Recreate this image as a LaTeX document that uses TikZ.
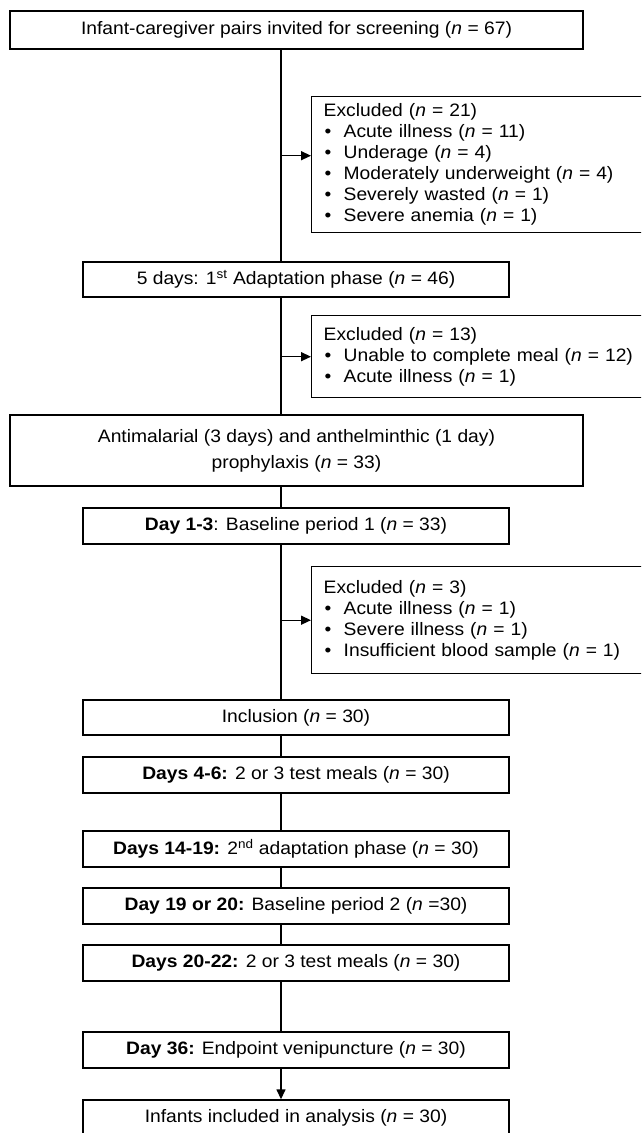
\documentclass[tikz,border=0pt]{standalone}
\usepackage{fontspec}
\setmainfont{Liberation Sans}[FakeStretch=1.07]
\usetikzlibrary{positioning,calc,arrows.meta}

\newcommand{\nn}{\textit{n}}
\newcommand{\bul}{\makebox[20pt][l]{\hspace{1pt}\textbullet}}

\begin{document}
\begin{tikzpicture}[x=1pt,y=-1pt,
    box/.style={draw,line width=1.4pt,minimum width=426pt,minimum height=36pt,inner sep=0pt,align=center,font=\fontsize{18}{26}\selectfont},
    widebox/.style={box,minimum width=573pt},
    exclbox/.style={draw,line width=1.4pt,anchor=north west,text width=330pt,inner xsep=12pt,inner ysep=0pt,align=left,font=\fontsize{18}{21}\selectfont},
    line/.style={line width=1.4pt},
    arr/.style={line,-{Triangle[length=10pt,width=9pt]}}]
    \useasboundingbox (0,0) rectangle (641,1133);
    \clip (0,0) rectangle (641,1133);
    \coordinate (spine) at (281,0);
    % Main flow
    \node[widebox,minimum height=38pt] (screen) at (296.5,30) {Infant-caregiver pairs invited for screening (\nn{} = 67)};
    \node[box,minimum height=35pt] (adapt1) at (296,279.5) {5 days: 1\textsuperscript{st} Adaptation phase (\nn{} = 46)};
    \node[widebox,minimum height=71pt] (prophy) at (296.5,450.5) {Antimalarial (3 days) and anthelminthic (1 day)\\prophylaxis (\nn{} = 33)};
    \node[box] (base1) at (296,526) {\textbf{Day 1-3}: Baseline period 1 (\nn{} = 33)};
    \node[box,minimum height=35pt] (incl) at (296,717.5) {Inclusion (\nn{} = 30)};
    \node[box] (meals1) at (296,775) {\textbf{Days 4-6:} 2 or 3 test meals (\nn{} = 30)};
    \node[box] (adapt2) at (296,849) {\textbf{Days 14-19:} 2\textsuperscript{nd} adaptation phase (\nn{} = 30)};
    \node[box] (base2) at (296,906) {\textbf{Day 19 or 20:} Baseline period 2 (\nn{} =30)};
    \node[box] (meals2) at (296,963) {\textbf{Days 20-22:} 2 or 3 test meals (\nn{} = 30)};
    \node[box] (endp) at (296,1050) {\textbf{Day 36:} Endpoint venipuncture (\nn{} = 30)};
    \node[box] (anal) at (296,1118) {Infants included in analysis (\nn{} = 30)};
    % Exclusions
    \node[exclbox,minimum height=136pt] (excl1) at (311,96) {Excluded (\nn{} = 21)\\
        \bul Acute illness (\nn{} = 11)\\
        \bul Underage (\nn{} = 4)\\
        \bul Moderately underweight (\nn{} = 4)\\
        \bul Severely wasted (\nn{} = 1)\\
        \bul Severe anemia (\nn{} = 1)};
    \node[exclbox,minimum height=82pt] (excl2) at (311,315) {Excluded (\nn{} = 13)\\
        \bul Unable to complete meal (\nn{} = 12)\\
        \bul Acute illness (\nn{} = 1)};
    \node[exclbox,minimum height=107pt] (excl3) at (311,566) {Excluded (\nn{} = 3)\\
        \bul Acute illness (\nn{} = 1)\\
        \bul Severe illness (\nn{} = 1)\\
        \bul Insufficient blood sample (\nn{} = 1)};
    % Spine
    \draw[line] (screen.south -| spine) -- (adapt1.north -| spine);
    \draw[line] (adapt1.south -| spine) -- (prophy.north -| spine);
    \draw[line] (prophy.south -| spine) -- (base1.north -| spine);
    \draw[line] (base1.south -| spine) -- (incl.north -| spine);
    \draw[line] (incl.south -| spine) -- (meals1.north -| spine);
    \draw[line] (meals1.south -| spine) -- (adapt2.north -| spine);
    \draw[line] (adapt2.south -| spine) -- (base2.north -| spine);
    \draw[line] (base2.south -| spine) -- (meals2.north -| spine);
    \draw[line] (meals2.south -| spine) -- (endp.north -| spine);
    \draw[arr] (endp.south -| spine) -- (anal.north -| spine);
    % Arrows to exclusions
    \draw[arr] ([yshift=9pt]excl1.west -| spine) -- ([yshift=9pt]excl1.west);
    \draw[arr] (excl2.west -| spine) -- (excl2.west);
    \draw[arr] (excl3.west -| spine) -- (excl3.west);
\end{tikzpicture}
\end{document}
